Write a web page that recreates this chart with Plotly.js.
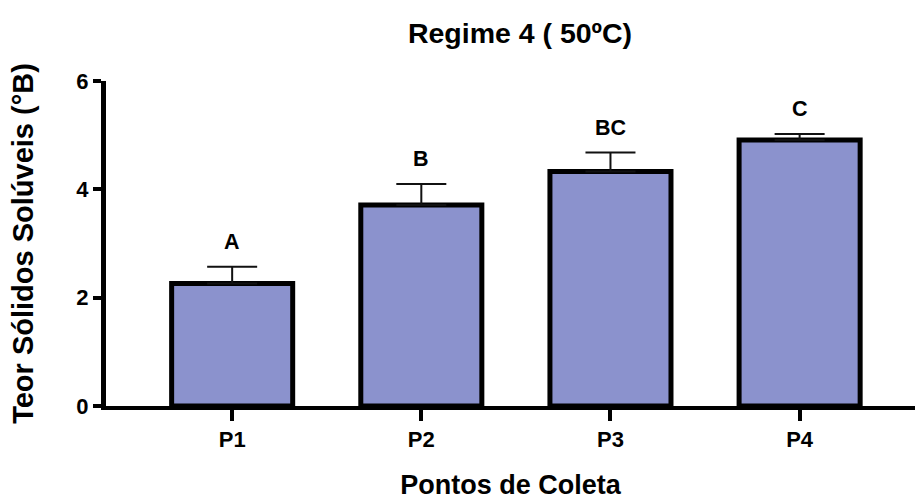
<!DOCTYPE html>
<html>
<head>
<meta charset="utf-8">
<script src="https://cdn.plot.ly/plotly-3.0.1.min.js"></script>
<style>html,body{margin:0;padding:0;background:#fff;}#chart{width:915px;height:500px;}</style>
</head>
<body>
<div id="chart"></div>
<script>
const categories = ['P1', 'P2', 'P3', 'P4'];
const means = [2.26, 3.71, 4.33, 4.91];
const sds = [0.31, 0.39, 0.35, 0.11];
const letters = ['A', 'B', 'BC', 'C'];
const yTicks = [0, 2, 4, 6];

const FONT = 'Liberation Sans, Arial, sans-serif';

const trace = {
  type: 'bar',
  x: categories,
  y: means,
  width: 0.64,
  marker: { color: '#8b92cd', line: { color: '#000', width: 5 } },
  error_y: { type: 'data', array: sds, visible: true, symmetric: false, arrayminus: sds.map(() => 0), color: '#111', thickness: 2, width: 25 },
  hoverinfo: 'skip'
};

const annotations = categories.map((c, i) => ({
  x: c, y: means[i] + sds[i], xref: 'x', yref: 'y',
  text: letters[i], showarrow: false, yanchor: 'middle', yshift: 25,
  font: { family: FONT, size: 21.5, color: '#000', weight: 'bold' }
}));

const layout = {
  width: 915, height: 500,
  margin: { l: 106, r: 0, t: 81, b: 94, pad: 0 },
  paper_bgcolor: '#fff', plot_bgcolor: '#fff',
  showlegend: false,
  font: { family: FONT, color: '#000', weight: 'bold' },
  title: {
    text: 'Regime 4 ( 50ºC)',
    x: 520 / 915, xanchor: 'center', xref: 'container',
    y: 1 - 33 / 500, yanchor: 'middle', yref: 'container',
    font: { family: FONT, size: 28.5, color: '#000', weight: 'bold' }
  },
  xaxis: {
    range: [-0.667, 3.61],
    showline: true, linecolor: '#000', linewidth: 4,
    ticks: 'outside', ticklen: 11, tickwidth: 4, tickcolor: '#000',
    tickfont: { family: FONT, size: 22, color: '#000', weight: 'bold' },
    showgrid: false, zeroline: false,
    title: { text: 'Pontos de Coleta', standoff: 28, font: { family: FONT, size: 27, color: '#000', weight: 'bold' } }
  },
  yaxis: {
    range: [0, 6],
    tickvals: yTicks,
    showline: true, linecolor: '#000', linewidth: 5,
    ticks: 'outside', ticklen: 8, tickwidth: 4, tickcolor: '#000',
    tickfont: { family: FONT, size: 22, color: '#000', weight: 'bold' },
    showgrid: false, zeroline: false,
    title: { text: 'Teor Sólidos Solúveis (°B)', standoff: 36, font: { family: FONT, size: 29, color: '#000', weight: 'bold' } }
  },
  annotations: annotations
};

Plotly.newPlot('chart', [trace], layout, { staticPlot: true, displayModeBar: false });
</script>
</body>
</html>
